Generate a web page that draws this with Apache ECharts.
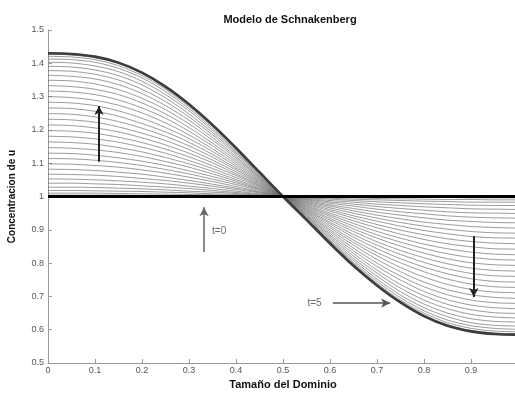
<!DOCTYPE html>
<html>
<head>
<meta charset="utf-8">
<title>Modelo de Schnakenberg</title>
<script src="https://cdn.jsdelivr.net/npm/echarts@6/dist/echarts.min.js"></script>
<style>
  html, body { margin: 0; padding: 0; background: #fff; }
  #chart { width: 515px; height: 394px; }
</style>
</head>
<body>
<div id="chart"></div>
<script>
// positions along the domain
const xs = [0, 0.05, 0.1, 0.15, 0.2, 0.25, 0.3, 0.35, 0.4, 0.45, 0.5,
            0.55, 0.6, 0.65, 0.7, 0.75, 0.8, 0.85, 0.9, 0.95, 1];

// u(x) profiles, first row t=0, last row t=5
const uCurves = [
    [1, 1, 1, 1, 1, 1, 1, 1, 1, 1, 1, 1, 1, 1, 1, 1, 1, 1, 1, 1, 1],
    [1.004, 1.004, 1.004, 1.004, 1.003, 1.003, 1.002, 1.002, 1.001, 1.001, 1, 0.999, 0.999, 0.998, 0.998, 0.997, 0.997, 0.997, 0.996, 0.996, 0.996],
    [1.010, 1.010, 1.010, 1.009, 1.008, 1.007, 1.006, 1.005, 1.003, 1.002, 1, 0.998, 0.997, 0.996, 0.994, 0.993, 0.992, 0.991, 0.991, 0.990, 0.990],
    [1.018, 1.018, 1.017, 1.016, 1.015, 1.013, 1.011, 1.008, 1.006, 1.003, 1, 0.997, 0.995, 0.992, 0.990, 0.988, 0.986, 0.985, 0.983, 0.983, 0.983],
    [1.028, 1.028, 1.027, 1.025, 1.023, 1.020, 1.016, 1.013, 1.009, 1.004, 1, 0.996, 0.992, 0.988, 0.984, 0.981, 0.978, 0.976, 0.974, 0.973, 0.973],
    [1.040, 1.040, 1.038, 1.036, 1.032, 1.028, 1.024, 1.018, 1.012, 1.006, 1, 0.994, 0.988, 0.983, 0.977, 0.973, 0.969, 0.966, 0.963, 0.962, 0.961],
    [1.053, 1.052, 1.050, 1.047, 1.043, 1.038, 1.031, 1.024, 1.016, 1.008, 1, 0.992, 0.984, 0.977, 0.970, 0.964, 0.959, 0.954, 0.951, 0.950, 0.949],
    [1.067, 1.066, 1.064, 1.060, 1.054, 1.048, 1.040, 1.031, 1.021, 1.011, 1, 0.990, 0.980, 0.971, 0.962, 0.954, 0.948, 0.942, 0.938, 0.936, 0.935],
    [1.082, 1.081, 1.078, 1.073, 1.067, 1.058, 1.048, 1.037, 1.025, 1.013, 1, 0.988, 0.975, 0.964, 0.953, 0.944, 0.936, 0.929, 0.925, 0.922, 0.921],
    [1.098, 1.097, 1.093, 1.088, 1.080, 1.070, 1.058, 1.045, 1.030, 1.015, 1, 0.985, 0.971, 0.957, 0.944, 0.933, 0.923, 0.916, 0.910, 0.907, 0.905],
    [1.114, 1.113, 1.109, 1.102, 1.093, 1.081, 1.068, 1.052, 1.036, 1.018, 1, 0.983, 0.966, 0.950, 0.935, 0.922, 0.911, 0.902, 0.895, 0.891, 0.890],
    [1.130, 1.129, 1.124, 1.116, 1.106, 1.093, 1.077, 1.060, 1.041, 1.021, 1, 0.980, 0.961, 0.942, 0.926, 0.911, 0.898, 0.888, 0.880, 0.876, 0.875],
    [1.147, 1.145, 1.140, 1.132, 1.120, 1.105, 1.088, 1.068, 1.046, 1.023, 1, 0.978, 0.956, 0.935, 0.916, 0.899, 0.885, 0.873, 0.865, 0.860, 0.858],
    [1.164, 1.162, 1.157, 1.147, 1.134, 1.117, 1.098, 1.076, 1.051, 1.026, 1, 0.975, 0.950, 0.927, 0.906, 0.887, 0.871, 0.858, 0.849, 0.843, 0.842],
    [1.181, 1.179, 1.173, 1.163, 1.148, 1.130, 1.108, 1.084, 1.057, 1.029, 1, 0.972, 0.945, 0.919, 0.895, 0.875, 0.857, 0.843, 0.833, 0.827, 0.825],
    [1.198, 1.196, 1.190, 1.178, 1.162, 1.142, 1.119, 1.092, 1.063, 1.032, 1, 0.970, 0.940, 0.911, 0.885, 0.863, 0.844, 0.828, 0.817, 0.811, 0.809],
    [1.215, 1.213, 1.206, 1.194, 1.176, 1.155, 1.130, 1.101, 1.068, 1.034, 1, 0.967, 0.934, 0.903, 0.875, 0.851, 0.830, 0.813, 0.801, 0.795, 0.793],
    [1.232, 1.230, 1.223, 1.209, 1.190, 1.168, 1.141, 1.109, 1.074, 1.037, 1, 0.964, 0.929, 0.895, 0.864, 0.838, 0.816, 0.798, 0.785, 0.778, 0.776],
    [1.249, 1.247, 1.239, 1.225, 1.205, 1.181, 1.152, 1.118, 1.080, 1.040, 1, 0.961, 0.923, 0.886, 0.854, 0.826, 0.802, 0.783, 0.769, 0.762, 0.760],
    [1.266, 1.264, 1.256, 1.241, 1.219, 1.194, 1.163, 1.126, 1.085, 1.043, 1, 0.959, 0.918, 0.878, 0.843, 0.813, 0.788, 0.768, 0.753, 0.745, 0.743],
    [1.283, 1.281, 1.273, 1.257, 1.235, 1.207, 1.174, 1.135, 1.091, 1.046, 1, 0.956, 0.912, 0.869, 0.832, 0.801, 0.774, 0.752, 0.737, 0.729, 0.727],
    [1.300, 1.297, 1.289, 1.274, 1.251, 1.221, 1.185, 1.143, 1.097, 1.049, 1, 0.953, 0.906, 0.862, 0.822, 0.787, 0.758, 0.736, 0.721, 0.713, 0.711],
    [1.317, 1.314, 1.306, 1.290, 1.266, 1.235, 1.196, 1.152, 1.103, 1.052, 1, 0.950, 0.900, 0.854, 0.811, 0.774, 0.743, 0.720, 0.705, 0.697, 0.694],
    [1.333, 1.330, 1.322, 1.306, 1.281, 1.248, 1.207, 1.160, 1.109, 1.055, 1, 0.947, 0.895, 0.845, 0.800, 0.761, 0.729, 0.705, 0.689, 0.681, 0.679],
    [1.349, 1.347, 1.338, 1.321, 1.295, 1.261, 1.218, 1.169, 1.115, 1.058, 1, 0.944, 0.889, 0.837, 0.790, 0.749, 0.715, 0.690, 0.674, 0.666, 0.663],
    [1.364, 1.361, 1.353, 1.336, 1.309, 1.273, 1.229, 1.177, 1.120, 1.060, 1, 0.942, 0.884, 0.829, 0.779, 0.736, 0.702, 0.676, 0.660, 0.651, 0.649],
    [1.378, 1.376, 1.367, 1.350, 1.322, 1.285, 1.239, 1.185, 1.126, 1.063, 1, 0.939, 0.879, 0.821, 0.770, 0.725, 0.689, 0.663, 0.646, 0.638, 0.635],
    [1.391, 1.389, 1.380, 1.363, 1.335, 1.296, 1.248, 1.192, 1.131, 1.066, 1, 0.937, 0.874, 0.814, 0.761, 0.714, 0.677, 0.650, 0.633, 0.625, 0.623],
    [1.403, 1.401, 1.392, 1.375, 1.346, 1.306, 1.257, 1.199, 1.135, 1.068, 1, 0.935, 0.869, 0.808, 0.752, 0.704, 0.666, 0.639, 0.621, 0.613, 0.611],
    [1.413, 1.411, 1.403, 1.385, 1.356, 1.315, 1.264, 1.205, 1.139, 1.070, 1, 0.933, 0.866, 0.802, 0.745, 0.696, 0.657, 0.629, 0.612, 0.604, 0.601],
    [1.421, 1.419, 1.411, 1.393, 1.363, 1.322, 1.270, 1.210, 1.142, 1.071, 1, 0.931, 0.863, 0.798, 0.739, 0.689, 0.650, 0.621, 0.604, 0.596, 0.594],
    [1.427, 1.425, 1.417, 1.399, 1.369, 1.327, 1.275, 1.213, 1.145, 1.072, 1, 0.930, 0.860, 0.794, 0.735, 0.684, 0.644, 0.615, 0.598, 0.590, 0.588],
    [1.430, 1.428, 1.420, 1.402, 1.372, 1.330, 1.277, 1.215, 1.146, 1.073, 1, 0.930, 0.859, 0.792, 0.733, 0.682, 0.641, 0.612, 0.595, 0.587, 0.585]
];

// annotation arrows: [start, end] in data coords
const arrowUp = [[0.1085, 1.104], [0.1085, 1.272]];
const arrowT0 = [[0.332, 0.833], [0.332, 0.968]];
const arrowT5 = [[0.606, 0.68], [0.728, 0.68]];
const arrowDown = [[0.906, 0.881], [0.906, 0.698]];

const textLabels = [[0.349, 0.896, 't=0'], [0.552, 0.68, 't=5']];

const chart = echarts.init(document.getElementById('chart'));

const fontFamily = 'Liberation Sans, Arial, sans-serif';
const last = uCurves.length - 1;

const curveSeries = uCurves.map((vals, i) => {
    let color = '#707070';
    let width = 0.7;
    if (i === 0) { color = '#000'; width = 3; }
    if (i === last) { color = '#3c3c3c'; width = 2.6; }
    return {
        type: 'line',
        smooth: 0.3,
        showSymbol: false,
        symbol: 'none',
        silent: true,
        z: i === 0 ? 5 : (i === last ? 4 : 2),
        lineStyle: { color: color, width: width },
        data: xs.map((x, j) => [x, vals[j]])
    };
});

function arrowLine(pts, color, width) {
    return [
        { coord: pts[0], lineStyle: { color: color, width: width } },
        { coord: pts[1] }
    ];
}

const annotationSeries = {
    type: 'scatter',
    symbolSize: 0,
    silent: true,
    z: 6,
    data: textLabels.map(t => ({ value: [t[0], t[1]], name: t[2] })),
    label: {
        show: true,
        position: 'right',
        distance: 0,
        formatter: p => p.name,
        color: '#444',
        fontSize: 10,
        fontFamily: fontFamily
    },
    markLine: {
        silent: true,
        animation: false,
        symbol: ['none', 'arrow'],
        symbolSize: [7, 9],
        label: { show: false },
        lineStyle: { type: 'solid' },
        data: [
            arrowLine(arrowUp, '#222', 2),
            arrowLine(arrowT0, '#666', 1.5),
            arrowLine(arrowT5, '#555', 1.5),
            arrowLine(arrowDown, '#222', 2)
        ]
    }
};

const option = {
    backgroundColor: '#fff',
    animation: false,
    title: {
        text: 'Modelo de Schnakenberg',
        left: 285,
        textAlign: 'center',
        top: 9,
        textStyle: { fontSize: 11, fontWeight: 'bold', color: '#111', fontFamily: fontFamily }
    },
    grid: {
        left: 48,
        top: 30,
        width: 470,
        height: 333,
        containLabel: false,
        outerBoundsMode: 'none'
    },
    xAxis: {
        type: 'value',
        min: 0,
        max: 1,
        interval: 0.1,
        name: 'Tamaño del Dominio',
        nameLocation: 'middle',
        nameGap: 14,
        nameTextStyle: { fontSize: 11, fontWeight: 'bold', color: '#111', fontFamily: fontFamily },
        splitLine: { show: false },
        axisLine: { lineStyle: { color: '#999', width: 1 } },
        axisTick: { inside: true, length: 4, lineStyle: { color: '#999' } },
        axisLabel: { fontSize: 9, color: '#555', margin: 3, fontFamily: fontFamily }
    },
    yAxis: {
        type: 'value',
        min: 0.5,
        max: 1.5,
        interval: 0.1,
        name: 'Concentracion de u',
        nameLocation: 'middle',
        nameGap: 31,
        nameTextStyle: { fontSize: 10, fontWeight: 'bold', color: '#111', fontFamily: fontFamily },
        splitLine: { show: false },
        axisLine: { show: true, lineStyle: { color: '#999', width: 1 } },
        axisTick: { show: true, inside: true, length: 4, lineStyle: { color: '#999' } },
        axisLabel: { fontSize: 9, color: '#555', margin: 4, fontFamily: fontFamily }
    },
    series: curveSeries.concat([annotationSeries])
};

chart.setOption(option);

window.addEventListener('resize', () => {
    chart.resize();
});
</script>
</body>
</html>
